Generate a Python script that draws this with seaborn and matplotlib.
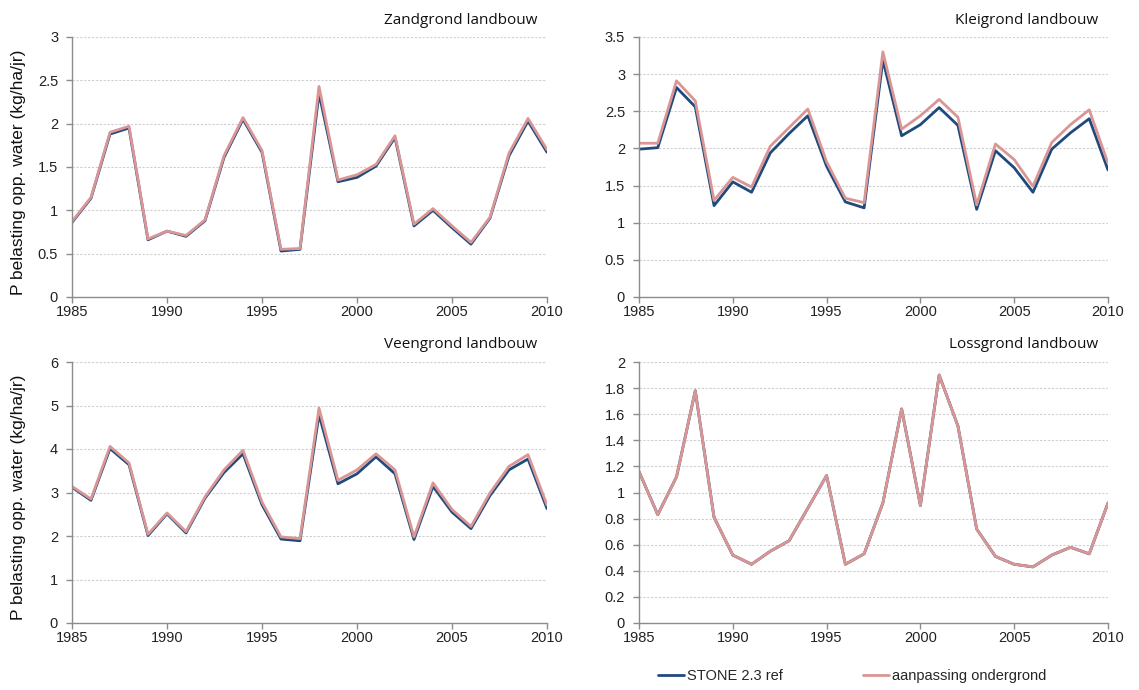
import numpy as np
import pandas as pd
import matplotlib
matplotlib.use("Agg")
import matplotlib.pyplot as plt
import seaborn as sns
from matplotlib.ticker import MultipleLocator, FuncFormatter
from matplotlib.lines import Line2D

# ---------------- data ----------------
years = list(range(1985, 2011))
series_names = ["STONE 2.3 ref", "aanpassing ondergrond"]
panel_titles = ["Zandgrond landbouw", "Kleigrond landbouw",
                "Veengrond landbouw", "Lossgrond landbouw"]
ylabel_text = "P belasting opp. water (kg/ha/jr)"

zand_ref = [0.86, 1.14, 1.88, 1.95, 0.66, 0.76, 0.70, 0.88, 1.61, 2.05, 1.67, 0.53, 0.55,
            2.35, 1.33, 1.38, 1.51, 1.84, 0.82, 1.00, 0.80, 0.61, 0.91, 1.63, 2.03, 1.67]
zand_aan = [0.87, 1.15, 1.90, 1.97, 0.67, 0.76, 0.71, 0.89, 1.63, 2.07, 1.69, 0.55, 0.56,
            2.43, 1.35, 1.41, 1.53, 1.86, 0.84, 1.02, 0.82, 0.63, 0.92, 1.66, 2.06, 1.70]

klei_ref = [1.99, 2.01, 2.82, 2.56, 1.23, 1.55, 1.41, 1.94, 2.20, 2.44, 1.76, 1.28, 1.20,
            3.19, 2.17, 2.32, 2.55, 2.31, 1.18, 1.97, 1.74, 1.41, 1.99, 2.21, 2.40, 1.71]
klei_aan = [2.07, 2.07, 2.91, 2.64, 1.30, 1.61, 1.48, 2.03, 2.28, 2.53, 1.82, 1.33, 1.27,
            3.30, 2.26, 2.44, 2.66, 2.42, 1.24, 2.06, 1.85, 1.49, 2.08, 2.32, 2.52, 1.80]

veen_ref = [3.12, 2.82, 4.01, 3.64, 2.01, 2.51, 2.07, 2.87, 3.46, 3.89, 2.72, 1.93, 1.89,
            4.79, 3.20, 3.43, 3.82, 3.43, 1.92, 3.14, 2.55, 2.17, 2.93, 3.52, 3.77, 2.63]
veen_aan = [3.14, 2.85, 4.06, 3.68, 2.04, 2.53, 2.10, 2.90, 3.52, 3.97, 2.78, 1.98, 1.94,
            4.94, 3.28, 3.52, 3.89, 3.52, 1.98, 3.22, 2.61, 2.22, 2.99, 3.60, 3.87, 2.71]

loss_ref = [1.16, 0.83, 1.12, 1.78, 0.81, 0.52, 0.45, 0.55, 0.63, 0.88, 1.13, 0.45, 0.53,
            0.92, 1.64, 0.90, 1.90, 1.51, 0.72, 0.51, 0.45, 0.43, 0.52, 0.58, 0.53, 0.92]
loss_aan = [1.16, 0.83, 1.12, 1.78, 0.81, 0.52, 0.45, 0.55, 0.63, 0.88, 1.13, 0.45, 0.53,
            0.92, 1.64, 0.90, 1.90, 1.51, 0.72, 0.51, 0.45, 0.43, 0.52, 0.58, 0.53, 0.92]

y_max = [3.0, 3.5, 6.0, 2.0]
y_step = [0.5, 0.5, 1.0, 0.2]

# ---------------- style ----------------
sns.set_theme(style="white")
plt.rcParams["font.family"] = ["Liberation Sans", "DejaVu Sans"]

colors = {"STONE 2.3 ref": "#1F4A7D", "aanpassing ondergrond": "#D99694"}
spine_col = "#8C8C8C"
grid_col = "#CFCFCF"

fig = plt.figure(figsize=(11.39, 6.90), dpi=100)
W, H = 1139, 690
# axes boxes in pixels: left, top, right, bottom
boxes = [(72, 37, 547, 297), (639, 37, 1108, 297),
         (72, 362, 547, 623), (639, 362, 1108, 623)]

data_pairs = [(zand_ref, zand_aan), (klei_ref, klei_aan),
              (veen_ref, veen_aan), (loss_ref, loss_aan)]

for i, ((l, t, r, b), (ref, aan)) in enumerate(zip(boxes, data_pairs)):
    ax = fig.add_axes([l / W, 1 - b / H, (r - l) / W, (b - t) / H])
    df = pd.DataFrame({
        "jaar": years * 2,
        "waarde": ref + aan,
        "serie": [series_names[0]] * len(years) + [series_names[1]] * len(years),
    })
    sns.lineplot(data=df, x="jaar", y="waarde", hue="serie", hue_order=series_names,
                 palette=colors, linewidth=2.0, ax=ax, legend=False)
    ax.set_xlim(1985, 2010)
    ax.set_ylim(0, y_max[i])
    ax.xaxis.set_major_locator(MultipleLocator(5))
    ax.yaxis.set_major_locator(MultipleLocator(y_step[i]))
    ax.yaxis.set_major_formatter(FuncFormatter(lambda v, p: f"{v:g}"))
    ax.set_xlabel("")
    ax.set_ylabel("")
    ax.grid(axis="y", color=grid_col, linestyle=(0, (2, 1.5)), linewidth=0.8)
    ax.set_axisbelow(True)
    for s in ["top", "right"]:
        ax.spines[s].set_visible(False)
    for s in ["left", "bottom"]:
        ax.spines[s].set_color(spine_col)
        ax.spines[s].set_linewidth(1.0)
    ax.tick_params(axis="y", which="major", direction="out", length=4,
                   width=1.0, color=spine_col, labelsize=10.5, labelcolor="#222222",
                   left=True, pad=6)
    ax.tick_params(axis="x", which="major", direction="out", length=4,
                   width=1.0, color=spine_col, labelsize=10.5, labelcolor="#222222",
                   bottom=True, pad=2)
    fig.text((r - 10) / W, 1 - (t - 17) / H, panel_titles[i],
             fontsize=11, ha="right", va="center",
             family=["Open Sans", "DejaVu Sans"], color="#111111")
    if i % 2 == 0:
        fig.text(19 / W, 1 - ((t + b) / 2 + 5) / H, ylabel_text, rotation=90,
                 ha="center", va="center", fontsize=12.5, color="#111111")

handles = [Line2D([], [], color=colors[n], linewidth=2.0) for n in series_names]
fig.legend(handles, series_names, loc="center", bbox_to_anchor=(852 / W, 1 - 676 / H),
           ncol=2, frameon=False, fontsize=10.5, handlelength=1.8, handletextpad=0.2,
           columnspacing=5.5)

fig.savefig("out.png", dpi=100)
